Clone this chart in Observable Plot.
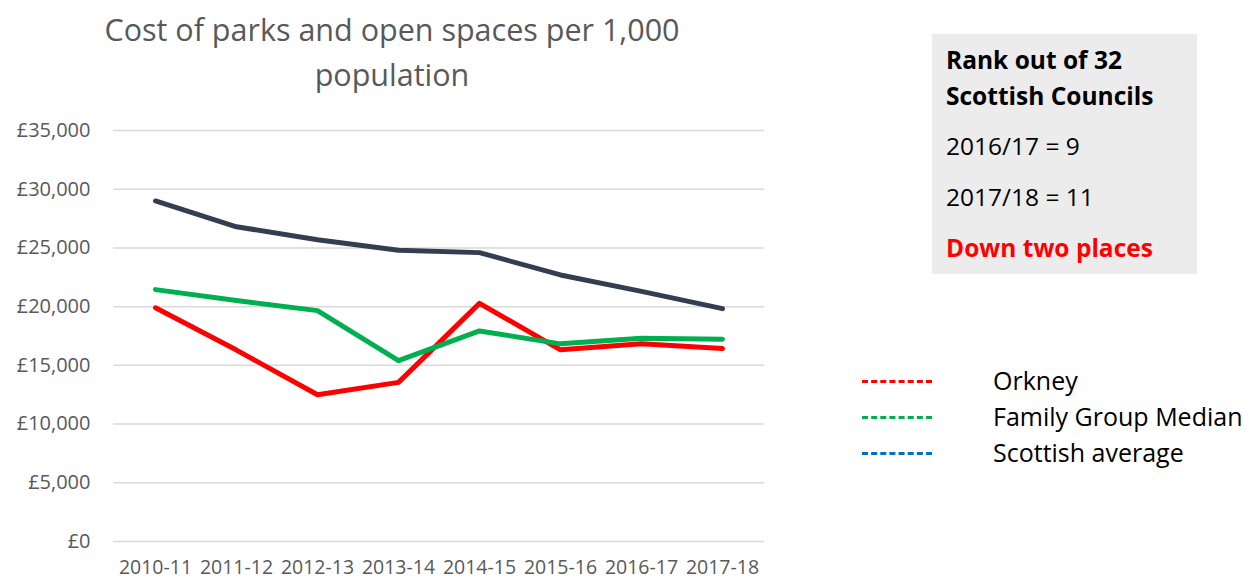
<!DOCTYPE html>
<html>
<head>
<meta charset="utf-8">
<script src="https://cdn.jsdelivr.net/npm/d3@7"></script>
<script src="https://cdn.jsdelivr.net/npm/@observablehq/plot@0.6"></script>
<style>
  body { margin: 0; background: #fff; font-family: "Open Sans", sans-serif; }
  #wrap { position: relative; width: 1253px; height: 581px; overflow: hidden; }
  #chart { position: absolute; left: 0; top: 0; }
  .title { position: absolute; left: 42px; width: 700px; text-align: center; color: #595959; font-size: 30.5px; line-height: 45px; top: 7px; }
  .box { position: absolute; left: 932px; top: 34px; width: 265px; height: 240px; background: #ececec; }
  .box div { position: absolute; left: 14px; font-size: 24.5px; line-height: 30px; color: #000; white-space: nowrap; }
  .dash { position: absolute; left: 862px; width: 70px; height: 0; border-top-width: 3px; border-top-style: dashed; }
  .lab { position: absolute; left: 993px; white-space: nowrap; font-size: 25px; line-height: 30px; color: #000; }
</style>
</head>
<body>
<div id="wrap">
  <div id="chart"></div>
  <div class="title">Cost of parks and open spaces per 1,000<br>population</div>
  <div class="box">
    <div style="top:11px;font-weight:bold">Rank out of 32</div>
    <div style="top:47px;font-weight:bold">Scottish Councils</div>
    <div style="top:97px">2016/17 = 9</div>
    <div style="top:148px">2017/18 = 11</div>
    <div style="top:199px;font-weight:bold;color:#ff0000">Down two places</div>
  </div>
  <div id="legend"></div>
</div>
<script>
const years = ["2010-11","2011-12","2012-13","2013-14","2014-15","2015-16","2016-17","2017-18"];
const orkney = [19900, 16300, 12500, 13550, 20280, 16320, 16830, 16430];
const familyGroupMedian = [21450, 20520, 19660, 15400, 17930, 16830, 17300, 17220];
const scottishAverage = [29000, 26800, 25700, 24800, 24600, 22700, 21300, 19830];
const yTicks = [0, 5000, 10000, 15000, 20000, 25000, 30000, 35000];

const seriesNames = ["Orkney", "Family Group Median", "Scottish average"];
const lineColors = ["#ff0000", "#00b050", "#333f50"];
const legendColors = ["#ff0000", "#00b050", "#0070c0"];
const seriesValues = [orkney, familyGroupMedian, scottishAverage];

const data = [];
seriesNames.forEach((s, i) => years.forEach((y, j) => data.push({series: s, year: y, value: seriesValues[i][j]})));

const fmt = v => "£" + d3.format(",")(v);

const chart = Plot.plot({
  width: 800,
  height: 581,
  marginLeft: 113,
  marginRight: 36,
  marginTop: 130,
  marginBottom: 40,
  style: {fontFamily: "'Open Sans', sans-serif", fontSize: "20px", color: "#595959", background: "transparent"},
  x: {type: "point", domain: years, padding: 0.5, label: null},
  y: {domain: [0, 35000], ticks: yTicks, label: null},
  color: {domain: seriesNames, range: lineColors},
  marks: [
    Plot.gridY(yTicks, {stroke: "#d9d9d9", strokeOpacity: 1, strokeWidth: 1.5}),
    Plot.axisY({ticks: yTicks, tickFormat: fmt, tickSize: 0, tickPadding: 23, label: null, fill: "#595959"}),
    Plot.axisX({tickSize: 0, tickPadding: 19, label: null, fill: "#595959", fontSize: 19.5}),
    Plot.line(data, {x: "year", y: "value", z: "series", stroke: "series", strokeWidth: 5, strokeLinecap: "round", strokeLinejoin: "round"})
  ]
});
document.getElementById("chart").appendChild(chart);

const legend = document.getElementById("legend");
const tops = [381, 417, 453];
seriesNames.forEach((s, i) => {
  const d = document.createElement("div");
  d.className = "dash";
  d.style.borderTopColor = legendColors[i];
  d.style.top = (tops[i] - 1) + "px";
  legend.appendChild(d);
  const l = document.createElement("div");
  l.className = "lab";
  l.textContent = s;
  l.style.top = (tops[i] - 16) + "px";
  legend.appendChild(l);
});
</script>
</body>
</html>
